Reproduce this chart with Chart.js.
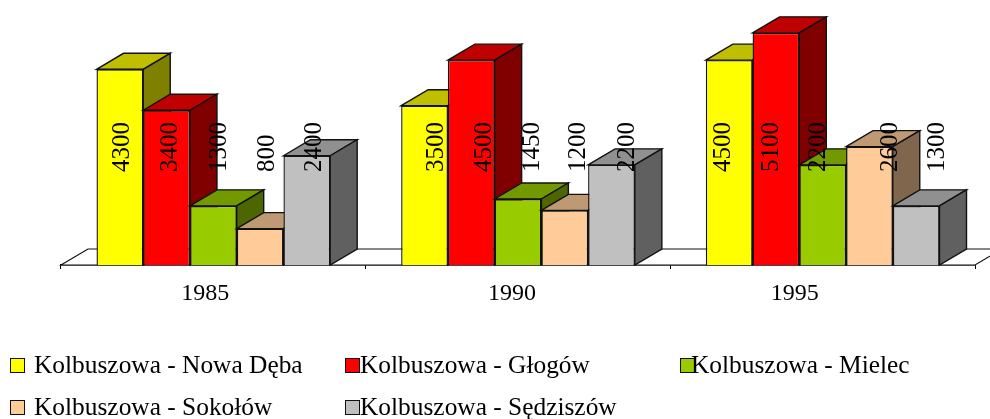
<!DOCTYPE html>
<html>
<head>
<meta charset="utf-8">
<style>
    html, body { margin: 0; padding: 0; background: #FFFFFF; }
    canvas { display: block; }
</style>
<script src="https://cdn.jsdelivr.net/npm/chart.js@4"></script>
</head>
<body>
<canvas id="chart" width="990" height="419"></canvas>
<script>
const years = ['1985', '1990', '1995'];
const seriesNames = ['Kolbuszowa - Nowa Dęba', 'Kolbuszowa - Głogów', 'Kolbuszowa - Mielec', 'Kolbuszowa - Sokołów', 'Kolbuszowa - Sędziszów'];
const novaDeba = [4300, 3500, 4500];
const glogow = [3400, 4500, 5100];
const mielec = [1300, 1450, 2200];
const sokolow = [800, 1200, 2600];
const sedziszow = [2400, 2200, 1300];
const seriesValues = [novaDeba, glogow, mielec, sokolow, sedziszow];
const colors = ['#FFFF00', '#FF0000', '#99CC00', '#FFCC99', '#C0C0C0'];
const topColors = ['#BFBF00', '#BF0000', '#739900', '#BF9973', '#909090'];
const sideColors = ['#808000', '#800000', '#4D6600', '#80664D', '#606060'];

const FONT = '"Liberation Serif", "Times New Roman", serif';
const DEPTH_X = 27;
const DEPTH_Y = 16;
const LINE = '#111111';
// the value labels were moved by hand in the original
const labelNudge = [
    [3, 4, 6, 7, 8],
    [12, 13, 14, 14, 16],
    [-6, -4, -4, 21, 21]
];
const yearNudge = [-8, -6, -28];
const legendSpots = [
    { box: 10, text: 34, y: 366 },
    { box: 345, text: 360, y: 366 },
    { box: 680, text: 691, y: 366 },
    { box: 10, text: 34, y: 408 },
    { box: 345, text: 360, y: 408 }
];

function face(ctx, points, fill) {
    ctx.beginPath();
    points.forEach((p, i) => i ? ctx.lineTo(p[0], p[1]) : ctx.moveTo(p[0], p[1]));
    ctx.closePath();
    ctx.fillStyle = fill;
    ctx.fill();
    ctx.stroke();
}

const bars3d = {
    id: 'bars3d',
    beforeDraw(chart) {
        // shift the year labels, still
        const x = chart.scales.x;
        x.getLabelItems().forEach((item, i) => {
            item.options.translation[0] = x.getPixelForTick(i) + yearNudge[i];
        });
    },
    beforeDatasetsDraw(chart) {
        const { ctx, chartArea } = chart;
        ctx.save();
        ctx.strokeStyle = LINE;
        ctx.lineWidth = 1.2;
        face(ctx, [
            [chartArea.left, chartArea.bottom],
            [chartArea.left + DEPTH_X, chartArea.bottom - DEPTH_Y],
            [chartArea.right + DEPTH_X, chartArea.bottom - DEPTH_Y],
            [chartArea.right, chartArea.bottom]
        ], '#FFFFFF');
        // first series first, later ones lie over its side
        ctx.lineWidth = 1.4;
        seriesValues.forEach((values, s) => {
            chart.getDatasetMeta(s).data.forEach(bar => {
                const p = bar.getProps(['x', 'y', 'base', 'width'], true);
                const l = p.x - p.width / 2;
                const r = p.x + p.width / 2;
                face(ctx, [[l, p.y], [l + DEPTH_X, p.y - DEPTH_Y], [r + DEPTH_X, p.y - DEPTH_Y], [r, p.y]], topColors[s]);
                face(ctx, [[r, p.y], [r + DEPTH_X, p.y - DEPTH_Y], [r + DEPTH_X, p.base - DEPTH_Y], [r, p.base]], sideColors[s]);
                bar.draw(ctx);
            });
        });
        ctx.restore();
    },
    beforeDatasetDraw() {
        return false;
    },
    afterDatasetsDraw(chart) {
        const { ctx } = chart;
        ctx.save();
        ctx.fillStyle = '#000000';
        ctx.font = '25px ' + FONT;
        ctx.textAlign = 'left';
        ctx.textBaseline = 'middle';
        seriesValues.forEach((values, s) => {
            const meta = chart.getDatasetMeta(s);
            values.forEach((value, c) => {
                ctx.save();
                ctx.translate(meta.data[c].x + labelNudge[c][s], 172);
                ctx.rotate(-Math.PI / 2);
                ctx.fillText(String(value), 0, 0);
                ctx.restore();
            });
        });
        ctx.restore();
    },
    afterDraw(chart) {
        const { ctx } = chart;
        ctx.save();
        ctx.font = '25.4px ' + FONT;
        ctx.textAlign = 'left';
        ctx.textBaseline = 'middle';
        ctx.strokeStyle = LINE;
        seriesNames.forEach((name, i) => {
            const spot = legendSpots[i];
            ctx.fillStyle = colors[i];
            ctx.fillRect(spot.box, spot.y - 8, 15, 15);
            ctx.strokeRect(spot.box + 0.5, spot.y - 7.5, 14, 14);
            ctx.fillStyle = '#000000';
            ctx.fillText(name, spot.text, spot.y);
        });
        ctx.restore();
    }
};

new Chart(document.getElementById('chart'), {
    type: 'bar',
    data: {
        labels: years,
        datasets: seriesNames.map((name, i) => ({
            label: name,
            data: seriesValues[i],
            backgroundColor: colors[i],
            borderColor: LINE,
            borderWidth: 1.4
        }))
    },
    options: {
        responsive: false,
        animation: false,
        categoryPercentage: 0.767,
        barPercentage: 1,
        layout: { padding: { left: 61, right: 15, top: 1, bottom: 113 } },
        plugins: { legend: { display: false }, tooltip: { enabled: false } },
        scales: {
            x: {
                border: { color: '#000000', width: 1.4 },
                grid: { drawOnChartArea: false, color: '#000000', tickLength: 4 },
                ticks: { color: '#000000', font: { family: FONT, size: 24 }, padding: 10, maxRotation: 0 },
                afterFit(scale) { scale.height = 41; }
            },
            y: { display: false, min: 0, max: 5800 }
        }
    },
    plugins: [bars3d]
});
</script>
</body>
</html>
